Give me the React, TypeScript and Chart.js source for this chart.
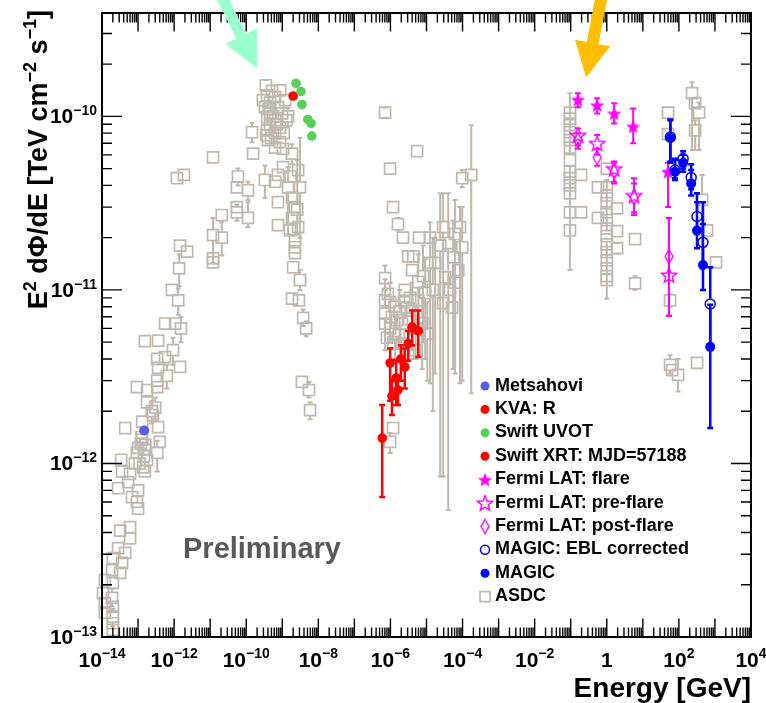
import React, { useEffect, useRef } from 'react';
import { Chart, registerables } from 'chart.js';

Chart.register(...registerables);

// Each row: [energy (GeV), E^2 dPhi/dE (TeV cm^-2 s^-1), lower bound?, upper bound?]
type Row = number[];

const asdcRadio: Row[] = [
  [1.2e-12, 4.4e-11], [1.87e-12, 4.6e-11], [1.46e-12, 1.8e-11], [2.3e-12, 1.66e-11],
  [1.38e-12, 1.33e-11, 1.05e-11, 1.6e-11], [8.7e-13, 1.0e-11], [1.3e-12, 8.7e-12, 7.2e-12, 1.02e-11],
  [5.6e-13, 6.4e-12], [1.07e-12, 6.4e-12], [1.55e-12, 6.0e-12, 5.0e-12, 7.0e-12],
  [1.55e-13, 5.07e-12], [3.6e-13, 5.1e-12], [9.3e-13, 4.5e-12, 3.7e-12, 5.3e-12],
  [5.6e-13, 4.1e-12], [3.4e-13, 4.0e-12], [1.46e-12, 3.6e-12], [3.6e-13, 3.55e-12],
  [6.3e-13, 3.2e-12, 2.7e-12, 3.7e-12], [3.4e-13, 3.0e-12], [9.3e-14, 2.75e-12],
  [1.78e-13, 2.65e-12], [3.4e-13, 2.75e-12], [1.78e-13, 2.25e-12],
  [2.4e-13, 2.0e-12, 1.7e-12, 2.3e-12], [3.0e-13, 2.1e-12, 1.8e-12, 2.4e-12],
  [3.6e-13, 1.62e-12], [2.6e-13, 1.9e-12], [4.4e-14, 1.6e-12], [1.3e-13, 1.74e-12],
  [1.3e-13, 1.37e-12], [1.0e-13, 1.23e-12], [1.55e-13, 1.2e-12], [9.3e-14, 1.15e-12],
  [1.78e-13, 1.05e-12], [1.38e-13, 9.5e-13], [1.55e-13, 9.0e-13], [8.2e-14, 1.0e-12],
  [1.2e-13, 1.3e-12], [1.45e-13, 1.1e-12], [1.1e-13, 1.0e-12], [1.6e-13, 1.28e-12],
  [1.25e-13, 1.42e-12], [4.0e-13, 1.33e-12], [3.4e-13, 1.15e-12, 9.0e-13, 1.35e-12],
  [3.4e-14, 1.05e-12], [3.6e-14, 9.0e-13], [6.0e-14, 8.7e-13], [2.8e-14, 7.2e-13],
  [5.3e-14, 7.8e-13], [1.0e-13, 7.0e-13], [6.8e-14, 6.4e-13], [9.3e-14, 6.0e-13],
  [1.0e-13, 5.5e-13], [3.2e-14, 4.1e-13], [6.0e-14, 4.3e-13], [6.0e-14, 3.7e-13],
  [2.8e-14, 3.25e-13], [4.4e-14, 3.05e-13], [2.0e-14, 2.85e-13], [3.6e-14, 2.67e-13],
  [1.9e-14, 2.43e-13], [3.2e-14, 2.34e-13], [1.2e-14, 2.13e-13], [2.0e-14, 2.05e-13],
  [1.07e-14, 1.79e-13], [1.9e-14, 1.68e-13, 1.5e-13, 1.9e-13], [1.2e-14, 1.57e-13],
  [2.0e-14, 1.49e-13], [1.2e-14, 1.38e-13], [2.0e-14, 1.31e-13, 1.15e-13, 1.45e-13],
  [2.0e-14, 1.2e-13], [2.0e-14, 1.1e-13],
];

const asdcOptical: Row[] = [
  [1.2e-11, 5.8e-11], [1.55e-10, 6.1e-11], [1.45e-10, 8.1e-11, 7.1e-11, 9.2e-11],
  [3.3e-10, 4.3e-11, 3.4e-11, 5.2e-11], [5.5e-11, 3.9e-11], [5.9e-11, 4.5e-11, 4.0e-11, 5.0e-11],
  [1.12e-10, 3.75e-11, 3.3e-11, 4.2e-11], [5.5e-11, 3.0e-11], [5.5e-11, 2.8e-11, 2.5e-11, 3.1e-11],
  [1.12e-10, 2.6e-11, 2.3e-11, 3.2e-11], [2.1e-11, 2.7e-11],
  [1.2e-11, 2.07e-11, 1.43e-11, 2.6e-11], [2.1e-11, 2.0e-11, 1.58e-11, 2.45e-11],
  [1.2e-11, 1.52e-11], [1.2e-11, 1.44e-11],
  [3.5e-10, 1.51e-10, 1.4e-10, 1.62e-10], [8.7e-10, 1.41e-10], [3.8e-10, 1.32e-10],
  [6.3e-10, 1.29e-10], [4.6e-10, 1.2e-10], [3.3e-10, 1.13e-10], [7.6e-10, 1.13e-10],
  [4.6e-10, 1.05e-10], [9.8e-10, 1.04e-10], [3.8e-10, 9.9e-11], [6.3e-10, 9.5e-11],
  [4.6e-10, 8.9e-11], [8.7e-10, 8.6e-11], [3.8e-10, 8.3e-11], [6.3e-10, 8.0e-11],
  [4.9e-10, 7.5e-11], [8.7e-10, 7.1e-11], [6.3e-10, 6.6e-11], [1.05e-9, 6.5e-11],
  [2.9e-10, 1.24e-10], [1.2e-9, 1.24e-10], [1.45e-9, 1.0e-10, 8.8e-11, 1.12e-10],
  [4.0e-10, 7.3e-11], [5.5e-10, 1.0e-10], [7.0e-10, 9.0e-11], [5.2e-10, 1.4e-10],
  [1.1e-9, 8.0e-11], [4.2e-10, 1.1e-10], [1.3e-9, 9.5e-11], [3.6e-10, 7.8e-11],
  [1.86e-9, 6.1e-11, 5.3e-11, 6.9e-11], [2.75e-9, 4.9e-11], [3.1e-9, 3.9e-11, 2.0e-11, 7.5e-11],
  [1.86e-9, 3.4e-11], [2.24e-9, 3.0e-11], [1.86e-9, 2.6e-11], [2.75e-9, 2.3e-11],
  [1.63e-9, 2.2e-11], [2.24e-9, 1.93e-11], [2.24e-9, 1.76e-11], [2.24e-9, 1.63e-11],
  [2.0e-9, 1.35e-11], [3.1e-9, 1.14e-11, 1.0e-11, 1.3e-11], [1.86e-9, 8.9e-12],
  [2.9e-9, 8.7e-12], [3.8e-9, 6.9e-12, 6.2e-12, 7.7e-12], [4.6e-9, 6.0e-12, 5.4e-12, 6.6e-12],
  [3.5e-9, 2.95e-12], [5.5e-9, 2.65e-12, 2.4e-12, 2.95e-12], [5.9e-9, 2.03e-12, 1.8e-12, 2.25e-12],
  [1.05e-9, 5.1e-11], [7.6e-10, 4.6e-11], [6.3e-10, 4.2e-11], [1.45e-9, 3.9e-11, 2.1e-11, 5.1e-11],
  [7.6e-10, 3.2e-11], [7.6e-10, 2.36e-11], [2.6e-9, 2.9e-11, 2.1e-11, 5.6e-11], [1.7e-9, 4.5e-11],
];

const asdcXray: Row[] = [
  [7.1e-7, 1.05e-10, 9.8e-11, 1.12e-10], [5.5e-6, 6.3e-11], [9.8e-7, 5.0e-11], [1.18e-6, 3.0e-11],
  [1.62e-6, 2.39e-11, 2.2e-11, 2.6e-11], [2.23e-6, 2.0e-11], [6.2e-6, 2.0e-11], [1.26e-5, 2.0e-11],
  [3.1e-6, 1.56e-11], [4.3e-6, 1.56e-11], [9.8e-5, 4.4e-11, 3.9e-11, 4.9e-11],
  [1.74e-4, 4.6e-11, 2.54e-12, 8.9e-11], [7.1e-7, 1.17e-11, 1.0e-11, 1.38e-11], [4.0e-6, 1.3e-11],
  [1.26e-5, 1.43e-11, 2.9e-12, 2.45e-11], [7.1e-7, 8.7e-12], [9.8e-7, 8.5e-12, 5.0e-12, 1.1e-11],
  [7.1e-7, 7.3e-12, 4.5e-12, 1.15e-11], [1.1e-6, 7.0e-12], [1.52e-6, 6.7e-12], [7.1e-7, 6.4e-12],
  [9.8e-7, 6.0e-12], [1.35e-6, 5.6e-12, 4.0e-12, 7.0e-12], [2.1e-6, 6.4e-12], [2.9e-6, 7.9e-12],
  [4.0e-6, 7.6e-12, 4.5e-12, 1.1e-11], [5.9e-6, 8.7e-12], [5.9e-6, 1.11e-11, 6.0e-12, 1.6e-11],
  [9.2e-6, 9.6e-12, 4.0e-12, 1.5e-11], [7.6e-6, 6.4e-12, 3.5e-12, 9.0e-12],
  [1.05e-5, 5.6e-12, 3.0e-12, 8.5e-12], [4.8e-6, 4.5e-12], [3.1e-6, 4.3e-12], [2.1e-6, 4.9e-12],
  [1.74e-5, 1.43e-11, 3.3e-12, 2.0e-11], [2.9e-5, 2.3e-11, 8.4e-13, 3.6e-11],
  [4.0e-5, 1.86e-11, 5.4e-13, 3.6e-11], [6.2e-5, 2.1e-11, 3.3e-12, 3.3e-11],
  [8.5e-5, 2.3e-11, 2.9e-12, 3.0e-11], [5.5e-5, 1.54e-11, 3.5e-12, 2.5e-11], [7.6e-5, 1.3e-11],
  [3.3e-5, 1.18e-11], [4.5e-5, 1.0e-11], [6.2e-5, 1.1e-11], [9.8e-5, 1.76e-11, 3.0e-12, 3.0e-11],
  [2.9e-5, 8.4e-12], [5.1e-5, 7.9e-12], [1.18e-6, 1.6e-12], [9.8e-7, 1.33e-12, 1.15e-12, 1.5e-12],
  [8.5e-7, 9.5e-12], [1.3e-6, 8.0e-12], [1.8e-6, 7.5e-12, 5.0e-12, 1.0e-11], [2.5e-6, 1.0e-11],
  [3.5e-6, 9.0e-12], [5.0e-6, 6.0e-12, 4.0e-12, 8.0e-12], [8.0e-6, 1.2e-11, 5.0e-12, 1.8e-11],
  [1.5e-5, 1.0e-11, 2.0e-12, 2.0e-11], [2.4e-5, 1.8e-11, 8.4e-13, 3.6e-11],
  [8.0e-7, 5.3e-12], [1.2e-6, 5.0e-12], [1.7e-6, 5.5e-12], [2.4e-6, 8.5e-12], [3.3e-6, 6.8e-12],
];

const asdcGamma: Row[] = [
  [0.095, 1.05e-10], [0.095, 9.7e-11], [0.095, 8.9e-11], [0.095, 8.1e-11], [0.095, 7.3e-11],
  [0.095, 6.6e-11], [0.095, 5.6e-11, 1.3e-11, 1.36e-10], [0.095, 4.8e-11], [0.095, 4.4e-11],
  [0.095, 4.0e-11], [0.095, 3.6e-11], [0.095, 2.8e-11], [0.095, 2.2e-11],
  [0.194, 4.6e-11], [0.194, 2.8e-11],
  [1.0, 3.9e-11], [1.0, 3.5e-11], [1.0, 3.16e-11], [1.0, 2.8e-11], [1.0, 2.52e-11], [1.0, 2.26e-11],
  [1.0, 2.04e-11, 8.9e-12, 4.3e-11], [1.0, 1.83e-11], [1.0, 1.65e-11], [1.0, 1.48e-11],
  [1.0, 1.33e-11], [1.0, 1.2e-11], [1.0, 1.14e-11], [0.57, 3.9e-11], [0.57, 2.6e-11],
  [1.93, 2.95e-11], [1.93, 2.18e-11], [1.93, 1.74e-11, 1.62e-11, 1.86e-11], [1.0, 5.0e-11],
  [6.1, 1.96e-11], [6.1, 1.09e-11, 1.0e-11, 1.2e-11], [50, 1.05e-10], [50, 7.9e-11],
  [57, 8.7e-12, 8.0e-12, 9.5e-12], [57, 3.7e-12, 3.3e-12, 4.2e-12], [65, 3.45e-12],
  [95, 3.24e-12, 2.6e-12, 4.0e-12], [320, 3.8e-12], [232, 1.36e-10, 6.4e-11, 1.57e-10],
  [282, 1.19e-10], [363, 1.05e-10, 6.4e-11, 1.2e-10], [282, 8.3e-11, 6.4e-11, 9.5e-11],
  [440, 3.3e-11, 1.3e-11, 4.6e-11], [603, 2.2e-11], [1070, 1.44e-11],
];

const metsahovi: Row[] = [[1.48e-13, 1.55e-12]];
const kvaR: Row[] = [[2.0e-9, 1.31e-10]];
const swiftUvot: Row[] = [
  [2.4e-9, 1.55e-10], [3.3e-9, 1.39e-10], [3.5e-9, 1.17e-10],
  [5.1e-9, 9.6e-11], [6.3e-9, 9.1e-11], [6.6e-9, 7.7e-11],
];
const swiftXrt: Row[] = [
  [5.9e-7, 1.4e-12, 6.4e-13, 2.17e-12], [9.8e-7, 3.8e-12, 2.3e-12, 4.6e-12],
  [1.1e-6, 2.44e-12, 1.9e-12, 3.0e-12], [1.44e-6, 3.1e-12, 2.17e-12, 3.94e-12],
  [1.62e-6, 2.65e-12, 2.17e-12, 3.2e-12], [1.95e-6, 4.0e-12, 3.0e-12, 4.8e-12],
  [2.5e-6, 3.6e-12, 2.7e-12, 4.6e-12], [3.1e-6, 4.9e-12, 3.9e-12, 5.8e-12],
  [4.0e-6, 6.1e-12, 4.8e-12, 7.6e-12], [5.9e-6, 5.8e-12, 4.1e-12, 7.6e-12],
];
const fermiFlare: Row[] = [
  [0.158, 1.25e-10, 1.13e-10, 1.36e-10], [0.54, 1.16e-10, 1.04e-10, 1.27e-10],
  [1.6, 1.04e-10, 9.1e-11, 1.19e-10], [5.4, 8.75e-11, 7.0e-11, 1.11e-10],
  [50, 4.8e-11, 3.0e-11, 5.4e-11],
];
const fermiPreFlare: Row[] = [
  [0.158, 7.8e-11, 6.8e-11, 8.5e-11], [0.54, 7.0e-11, 6.0e-11, 7.8e-11],
  [1.6, 5.0e-11, 4.1e-11, 5.5e-11], [5.7, 3.5e-11, 2.7e-11, 4.4e-11],
  [53, 1.22e-11, 7.1e-12, 2.6e-11],
];
const fermiPostFlare: Row[] = [
  [0.158, 7.3e-11, 6.5e-11, 8.0e-11], [0.54, 5.8e-11, 5.2e-11, 6.5e-11],
  [1.6, 4.8e-11, 4.2e-11, 5.4e-11], [5.7, 3.4e-11, 2.8e-11, 4.1e-11],
  [53, 1.56e-11, 7.1e-12, 2.6e-11],
];
const magicEbl: Row[] = [
  [58, 7.6e-11, 5.5e-11, 9.6e-11], [78, 4.9e-11, 4.4e-11, 5.7e-11], [131, 5.7e-11, 5.0e-11, 6.3e-11],
  [219, 4.45e-11, 3.8e-11, 5.3e-11], [318, 2.65e-11, 2.1e-11, 3.6e-11],
  [466, 1.88e-11, 1.35e-11, 3.2e-11], [740, 8.3e-12, 4.5e-12, 1.35e-11],
];
const magic: Row[] = [
  [58, 7.5e-11, 5.4e-11, 9.5e-11], [78, 4.8e-11, 4.3e-11, 5.6e-11], [131, 5.4e-11, 4.8e-11, 6.0e-11],
  [219, 4.1e-11, 3.5e-11, 4.9e-11], [318, 2.2e-11, 1.74e-11, 3.2e-11],
  [466, 1.39e-11, 1.0e-11, 2.4e-11], [740, 4.7e-12, 1.6e-12, 8.2e-12],
];

// Axis ranges and labelled decades
const X_MIN = 1e-14;
const X_MAX = 1e4;
const Y_MIN = 1e-13;
const Y_MAX = 3.94e-10;
const xLabelExps = [-14, -12, -10, -8, -6, -4, -2, 0, 2, 4];
const yLabelExps = [-13, -12, -11, -10];

const legendOrder = [
  'Metsahovi', 'KVA: R', 'Swift UVOT', 'Swift XRT: MJD=57188', 'Fermi LAT: flare',
  'Fermi LAT: pre-flare', 'Fermi LAT: post-flare', 'MAGIC: EBL corrected', 'MAGIC', 'ASDC',
];

// Pointer arrows, tail and tip given as (energy, flux)
const pointerArrows = [
  { from: [1.25e-11, 6.07e-10], to: [2.0e-10, 1.89e-10], color: 'rgb(153,255,204)', shaft: 11, headLen: 36, headWidth: 35 },
  { from: [0.87, 6.07e-10], to: [0.267, 1.677e-10], color: 'rgb(255,191,0)', shaft: 12, headLen: 35, headWidth: 36 },
];

const FONT = '"Liberation Sans", Arial, Helvetica, sans-serif';
const GRAY = 'rgb(192,184,175)';
const MAGENTA = '#ff00ff';
const BLUE = '#0000ff';
const RED = '#ff0000';
const GREEN = 'rgb(88,208,88)';
const PURPLE = 'rgb(92,92,225)';

const toPoints = (rows: Row[]) => rows.map((r) => ({ x: r[0], y: r[1], lo: r[2], hi: r[3] }));

function markerCanvas(size: number, paint: (c: CanvasRenderingContext2D, m: number) => void) {
  const cv = document.createElement('canvas');
  cv.width = size;
  cv.height = size;
  const c = cv.getContext('2d') as CanvasRenderingContext2D;
  paint(c, size / 2);
  return cv;
}

function starPath(c: CanvasRenderingContext2D, cx: number, cy: number, ro: number, ri: number) {
  c.beginPath();
  for (let k = 0; k < 10; k++) {
    const r = k % 2 ? ri : ro;
    const a = -Math.PI / 2 + (k * Math.PI) / 5;
    c.lineTo(cx + r * Math.cos(a), cy + r * Math.sin(a));
  }
  c.closePath();
}

type Seg = [string, boolean?];
const expText = (e: number) => (e < 0 ? '\u2212' + -e : String(e));

function richWidth(ctx: CanvasRenderingContext2D, segs: Seg[], size: number, sup: number) {
  let w = 0;
  for (const [t, s] of segs) {
    ctx.font = `bold ${s ? sup : size}px ${FONT}`;
    w += ctx.measureText(t).width;
  }
  return w;
}

function drawRich(ctx: CanvasRenderingContext2D, segs: Seg[], x: number, y: number, size: number, sup: number, raise: number) {
  let cx = x;
  ctx.textAlign = 'left';
  ctx.textBaseline = 'alphabetic';
  for (const [t, s] of segs) {
    ctx.font = `bold ${s ? sup : size}px ${FONT}`;
    ctx.fillText(t, cx, s ? y - raise : y);
    cx += ctx.measureText(t).width;
  }
}

const errorBars = {
  id: 'errorBars',
  beforeDatasetDraw(chart: any, args: any) {
    const ds = chart.data.datasets[args.index];
    const st = ds.err;
    if (!st) return;
    const { ctx } = chart;
    const ys = chart.scales.y;
    ctx.save();
    ctx.strokeStyle = st.color;
    ctx.lineWidth = st.width;
    ds.data.forEach((p: any, i: number) => {
      if (p.lo == null || p.hi == null) return;
      const el = args.meta.data[i];
      const x = el.x;
      const y = el.y;
      const yl = ys.getPixelForValue(p.lo);
      const yh = ys.getPixelForValue(p.hi);
      ctx.beginPath();
      if (y - st.gap > yh) {
        ctx.moveTo(x, yh);
        ctx.lineTo(x, y - st.gap);
      }
      if (y + st.gap < yl) {
        ctx.moveTo(x, y + st.gap);
        ctx.lineTo(x, yl);
      }
      ctx.moveTo(x - st.cap, yh);
      ctx.lineTo(x + st.cap, yh);
      ctx.moveTo(x - st.cap, yl);
      ctx.lineTo(x + st.cap, yl);
      ctx.stroke();
    });
    ctx.restore();
  },
};

const axesFrame = {
  id: 'axesFrame',
  afterDatasetsDraw(chart: any) {
    const { ctx, chartArea: a } = chart;
    const xs = chart.scales.x;
    const ys = chart.scales.y;
    ctx.save();
    ctx.strokeStyle = '#000';
    ctx.lineWidth = 1.4;
    ctx.beginPath();
    const x0 = Math.round(Math.log10(X_MIN));
    const x1 = Math.round(Math.log10(X_MAX));
    for (let d = x0; d < x1; d++) {
      for (let m = 1; m <= 9; m++) {
        const px = xs.getPixelForValue(m * Math.pow(10, d));
        const len = m === 1 ? 18.5 : 9.5;
        ctx.moveTo(px, a.bottom);
        ctx.lineTo(px, a.bottom - len);
        ctx.moveTo(px, a.top);
        ctx.lineTo(px, a.top + len);
      }
    }
    const y0 = Math.floor(Math.log10(Y_MIN));
    const y1 = Math.floor(Math.log10(Y_MAX));
    for (let d = y0; d <= y1; d++) {
      for (let m = 1; m <= 9; m++) {
        const v = m * Math.pow(10, d);
        if (v > Y_MAX * 1.0001) break;
        const py = ys.getPixelForValue(v);
        const len = m === 1 ? 20 : 10;
        ctx.moveTo(a.left, py);
        ctx.lineTo(a.left + len, py);
        ctx.moveTo(a.right, py);
        ctx.lineTo(a.right - len, py);
      }
    }
    ctx.stroke();
    ctx.lineWidth = 2;
    ctx.strokeRect(a.left, a.top, a.right - a.left, a.bottom - a.top);

    // tick labels
    ctx.fillStyle = '#000';
    for (const e of xLabelExps) {
      const segs: Seg[] = e === 0 ? [['1']] : [['10'], [expText(e), true]];
      const w = richWidth(ctx, segs, 21, 14);
      drawRich(ctx, segs, xs.getPixelForValue(Math.pow(10, e)) - w / 2, a.bottom + 30, 21, 14, 9);
    }
    for (const e of yLabelExps) {
      const segs: Seg[] = [['10'], [expText(e), true]];
      const w = richWidth(ctx, segs, 21, 14);
      drawRich(ctx, segs, a.left - 5 - w, ys.getPixelForValue(Math.pow(10, e)) + 7, 21, 14, 8);
    }
    ctx.restore();
  },
};

function drawLegendMarker(ctx: CanvasRenderingContext2D, ds: any, x: number, y: number) {
  const st = ds.pointStyle;
  if (st && typeof st === 'object') {
    ctx.drawImage(st, x - st.width / 2, y - st.height / 2);
    return;
  }
  ctx.save();
  ctx.lineWidth = ds.pointBorderWidth;
  ctx.strokeStyle = ds.pointBorderColor;
  ctx.fillStyle = ds.pointBackgroundColor;
  ctx.beginPath();
  if (st === 'rect') {
    ctx.rect(x - 5, y - 5, 10, 10);
  } else {
    ctx.arc(x, y, ds.legendRadius || 4, 0, Math.PI * 2);
  }
  ctx.fill();
  if (ds.pointBorderWidth > 0) ctx.stroke();
  ctx.restore();
}

const annotations = {
  id: 'annotations',
  afterDraw(chart: any) {
    const { ctx, chartArea: a } = chart;
    const xs = chart.scales.x;
    const ys = chart.scales.y;
    ctx.save();

    // axis titles
    ctx.fillStyle = '#000';
    ctx.font = `bold 28px ${FONT}`;
    ctx.textAlign = 'right';
    ctx.textBaseline = 'alphabetic';
    ctx.fillText('Energy [GeV]', a.right, 697);

    const title: Seg[] = [['E'], ['2', true], [' d\u03A6/dE [TeV cm'], ['\u22122', true], [' s'], ['\u22121', true], [']']];
    const tw = richWidth(ctx, title, 27, 18);
    ctx.save();
    ctx.translate(47, 10);
    ctx.rotate(-Math.PI / 2);
    drawRich(ctx, title, -tw, 0, 27, 18, 11);
    ctx.restore();

    // watermark
    ctx.fillStyle = 'rgb(88,88,88)';
    ctx.font = `bold 29px ${FONT}`;
    ctx.textAlign = 'left';
    ctx.fillText('Preliminary', 183, 558);

    // legend
    const datasets = chart.data.datasets;
    legendOrder.forEach((label, i) => {
      const ds = datasets.find((d: any) => d.label === label);
      if (!ds) return;
      const ry = 386 + i * 23.4;
      drawLegendMarker(ctx, ds, 485, ry);
      ctx.fillStyle = '#000';
      ctx.font = `bold 18px ${FONT}`;
      ctx.textAlign = 'left';
      ctx.fillText(label, 495, ry + 4.5);
    });

    // pointer arrows
    for (const ar of pointerArrows) {
      const tx = xs.getPixelForValue(ar.from[0]);
      const ty = ys.getPixelForValue(ar.from[1]);
      const hx = xs.getPixelForValue(ar.to[0]);
      const hy = ys.getPixelForValue(ar.to[1]);
      const L = Math.hypot(hx - tx, hy - ty);
      const ux = (hx - tx) / L;
      const uy = (hy - ty) / L;
      const nx = -uy;
      const ny = ux;
      const bx = hx - ux * ar.headLen;
      const by = hy - uy * ar.headLen;
      const s = ar.shaft / 2;
      const h = ar.headWidth / 2;
      ctx.fillStyle = ar.color;
      ctx.beginPath();
      ctx.moveTo(tx + nx * s, ty + ny * s);
      ctx.lineTo(bx + nx * s, by + ny * s);
      ctx.lineTo(bx + nx * h, by + ny * h);
      ctx.lineTo(hx, hy);
      ctx.lineTo(bx - nx * h, by - ny * h);
      ctx.lineTo(bx - nx * s, by - ny * s);
      ctx.lineTo(tx - nx * s, ty - ny * s);
      ctx.closePath();
      ctx.fill();
    }
    ctx.restore();
  },
};

export default function App() {
  const ref = useRef<HTMLCanvasElement | null>(null);

  useEffect(() => {
    const canvas = ref.current;
    if (!canvas) return;

    const starFilled = markerCanvas(18, (c, m) => {
      starPath(c, m, m + 0.8, 7.5, 3.3);
      c.fillStyle = MAGENTA;
      c.fill();
    });
    const starOpen = markerCanvas(20, (c, m) => {
      starPath(c, m, m + 0.8, 8, 3.4);
      c.strokeStyle = MAGENTA;
      c.lineWidth = 1.4;
      c.stroke();
    });
    const diamondOpen = markerCanvas(18, (c, m) => {
      c.beginPath();
      c.moveTo(m, m - 7);
      c.lineTo(m + 4, m);
      c.lineTo(m, m + 7);
      c.lineTo(m - 4, m);
      c.closePath();
      c.strokeStyle = MAGENTA;
      c.lineWidth = 1.4;
      c.stroke();
    });

    const base = { clip: false as const, showLine: false };
    const datasets: any[] = [
      {
        ...base, label: 'MAGIC', data: toPoints(magic), pointStyle: 'circle', pointRadius: 5,
        pointBackgroundColor: BLUE, pointBorderColor: BLUE, pointBorderWidth: 0, legendRadius: 4.5,
        err: { color: BLUE, width: 2.5, gap: 0, cap: 3 },
      },
      {
        ...base, label: 'MAGIC: EBL corrected', data: toPoints(magicEbl), pointStyle: 'circle', pointRadius: 5,
        pointBackgroundColor: 'rgba(0,0,0,0)', pointBorderColor: BLUE, pointBorderWidth: 1.5, legendRadius: 4.5,
        err: { color: BLUE, width: 2.5, gap: 5.5, cap: 3 },
      },
      {
        ...base, label: 'Fermi LAT: flare', data: toPoints(fermiFlare), pointStyle: starFilled, pointRadius: 7,
        err: { color: MAGENTA, width: 2, gap: 0, cap: 3 },
      },
      {
        ...base, label: 'Fermi LAT: pre-flare', data: toPoints(fermiPreFlare), pointStyle: starOpen, pointRadius: 8,
        err: { color: MAGENTA, width: 2, gap: 7, cap: 3 },
      },
      {
        ...base, label: 'Fermi LAT: post-flare', data: toPoints(fermiPostFlare), pointStyle: diamondOpen, pointRadius: 7,
        err: { color: MAGENTA, width: 2, gap: 7, cap: 3 },
      },
      {
        ...base, label: 'Swift XRT: MJD=57188', data: toPoints(swiftXrt), pointStyle: 'circle', pointRadius: 4.8,
        pointBackgroundColor: RED, pointBorderColor: RED, pointBorderWidth: 0, legendRadius: 4.5,
        err: { color: RED, width: 2.5, gap: 0, cap: 3 },
      },
      {
        ...base, label: 'Swift UVOT', data: toPoints(swiftUvot), pointStyle: 'circle', pointRadius: 4.8,
        pointBackgroundColor: GREEN, pointBorderColor: GREEN, pointBorderWidth: 0, legendRadius: 4.5,
      },
      {
        ...base, label: 'KVA: R', data: toPoints(kvaR), pointStyle: 'circle', pointRadius: 4.8,
        pointBackgroundColor: RED, pointBorderColor: RED, pointBorderWidth: 0, legendRadius: 4.5,
      },
      {
        ...base, label: 'Metsahovi', data: toPoints(metsahovi), pointStyle: 'circle', pointRadius: 5,
        pointBackgroundColor: PURPLE, pointBorderColor: PURPLE, pointBorderWidth: 0, legendRadius: 4.5,
      },
      {
        ...base, label: 'ASDC',
        data: toPoints([...asdcRadio, ...asdcOptical, ...asdcXray, ...asdcGamma]),
        pointStyle: 'rect', pointRadius: 7.8,
        pointBackgroundColor: 'rgba(0,0,0,0)', pointBorderColor: GRAY, pointBorderWidth: 1.7,
        err: { color: GRAY, width: 2, gap: 5.5, cap: 2.5 },
      },
    ];

    const chart = new Chart(canvas, {
      type: 'scatter',
      data: { datasets },
      options: {
        responsive: false,
        animation: false,
        devicePixelRatio: 1,
        events: [],
        layout: { padding: { left: 102, right: 15, top: 13, bottom: 66 } },
        scales: {
          x: { type: 'logarithmic', min: X_MIN, max: X_MAX, display: false },
          y: { type: 'logarithmic', min: Y_MIN, max: Y_MAX, display: false },
        },
        plugins: { legend: { display: false }, tooltip: { enabled: false } },
      },
      plugins: [errorBars, axesFrame, annotations],
    } as any);

    return () => chart.destroy();
  }, []);

  return (
    <div style={{ position: 'fixed', left: 0, top: 0, width: 766, height: 703, background: '#fff' }}>
      <canvas ref={ref} width={766} height={703} style={{ display: 'block' }} />
    </div>
  );
}
